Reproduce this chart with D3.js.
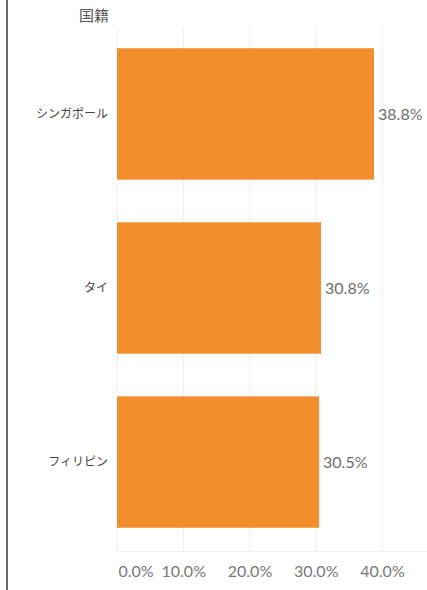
<!DOCTYPE html>
<html><head><meta charset="utf-8">
<script src="https://cdn.jsdelivr.net/npm/d3@7"></script>
<style>body{margin:0;background:#fff;}svg{display:block;}</style>
</head><body>
<svg id="c" width="427" height="590"></svg>
<script>
const categories = ["シンガポール", "タイ", "フィリピン"];
const values = [38.8, 30.8, 30.5];
const tickValues = [0, 10, 20, 30, 40];
const headerLabel = "国籍";

const svg = d3.select("#c");
const font = "Lato, 'Noto Sans CJK JP', sans-serif";
const x = d3.scaleLinear().domain([0, 40]).range([117, 382]);
const y = d3.scaleBand().domain(categories).range([27, 549]).paddingInner(0.245).paddingOuter(0.122);

// left border
svg.append("rect").attr("x", 6).attr("y", 0).attr("width", 2).attr("height", 590).attr("fill", "#6b6b6b");

// gridlines
svg.append("g").selectAll("line").data(tickValues).join("line")
  .attr("x1", d => x(d)).attr("x2", d => x(d))
  .attr("y1", 27).attr("y2", 551)
  .attr("stroke", "#efefef").attr("stroke-width", 1).attr("shape-rendering", "crispEdges");
svg.append("line").attr("x1", 117).attr("x2", 427).attr("y1", 551).attr("y2", 551)
  .attr("stroke", "#efefef").attr("shape-rendering", "crispEdges");

// header
svg.append("text").attr("x", 79).attr("y", 21).text(headerLabel)
  .attr("font-family", font).attr("font-size", 15).attr("fill", "#555");

// bars
svg.append("g").selectAll("rect").data(values).join("rect")
  .attr("x", x(0)).attr("y", (d, i) => y(categories[i]))
  .attr("width", d => x(d) - x(0)).attr("height", y.bandwidth())
  .attr("fill", "#f28e2b");

// value labels
svg.append("g").selectAll("text").data(values).join("text")
  .attr("x", d => x(d) + 4).attr("y", (d, i) => y(categories[i]) + y.bandwidth() / 2)
  .attr("dy", "0.35em").text(d => d.toFixed(1) + "%")
  .attr("font-family", font).attr("font-size", 16).attr("fill", "#6e6e6e");

// category labels
svg.append("g").selectAll("text").data(categories).join("text")
  .attr("x", 108).attr("y", d => y(d) + y.bandwidth() / 2)
  .attr("dy", "0.35em").attr("text-anchor", "end").text(d => d)
  .attr("font-family", font).attr("font-size", 12).attr("fill", "#444");

// axis
const axis = d3.axisBottom(x).tickValues(tickValues).tickSize(0).tickPadding(0)
  .tickFormat(d => d.toFixed(1) + "%");
const ag = svg.append("g").attr("transform", "translate(0,577)").call(axis);
ag.select(".domain").remove();
ag.selectAll("text").attr("font-family", font).attr("font-size", 16).attr("fill", "#777").attr("dy", 0)
  .attr("text-anchor", (d, i) => i === 0 ? "start" : "middle")
  .attr("x", (d, i) => i === 0 ? 1 : 0);
</script>
</body></html>
